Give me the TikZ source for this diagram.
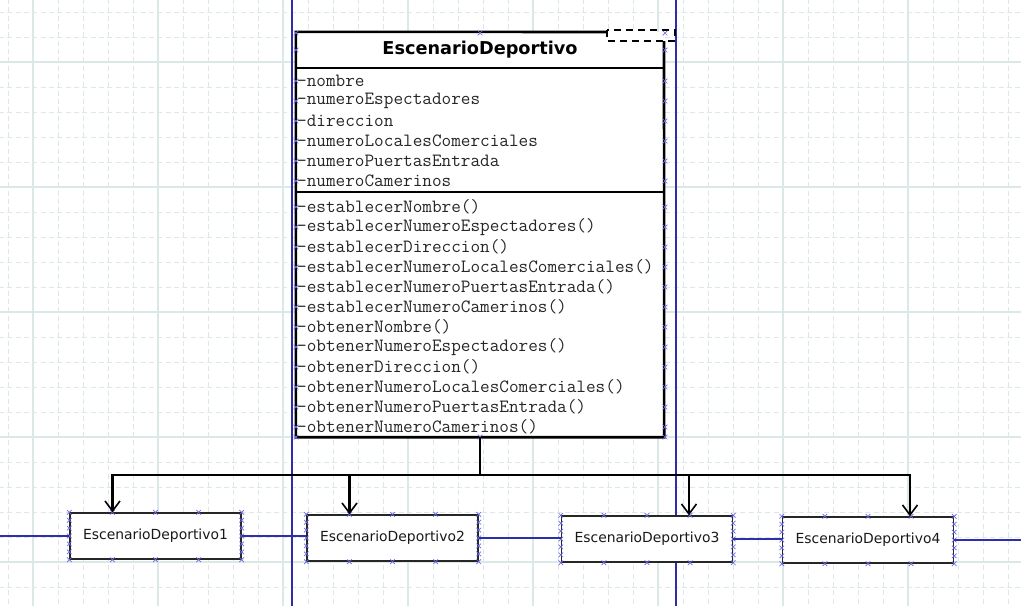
\documentclass[tikz,border=0pt]{standalone}
\usepackage{fontspec}
\setmainfont{DejaVu Sans}
\usetikzlibrary{arrows.meta,calc}
\definecolor{gridc}{HTML}{DCE8E8}
\definecolor{bline}{HTML}{2E2EA8}
\definecolor{mk}{HTML}{6A6AE6}
\tikzset{
  xm/.pic={\draw[mk,line width=0.7pt] (-2.3,-2.3)--(2.3,2.3) (-2.3,2.3)--(2.3,-2.3);},
  gridd/.style={gridc,line width=1pt,dash pattern=on 5pt off 3.33pt,dash phase=1pt},
  grids/.style={gridc,line width=1.2pt},
  member/.style={anchor=west,inner sep=0pt,font=\ttfamily\fontsize{18.7}{18}\selectfont,text=black!85},
  subbox/.style={draw=black!85,line width=1.4pt,fill=white,minimum width=171pt,minimum height=46pt,inner sep=0pt,font=\fontsize{13.9}{14}\selectfont,text=black!90},
  gen/.style={line width=2.2pt,-{Straight Barb[length=10pt,width=15pt,line width=1.6pt]}},
  assoc/.style={bline,line width=1.3pt},
  frame/.style={line width=2.6pt,black}
}
\begin{document}
\begin{tikzpicture}[x=1pt,y=-1pt]
\useasboundingbox (0,0) rectangle (1021,606);
\fill[white] (0,0) rectangle (1021,606);
% grid
\foreach \x in {8,33,...,1020} \draw[gridd] (\x,0) -- (\x,606);
\foreach \y in {12,37,...,605} \draw[gridd] (0,\y) -- (1021,\y);
\foreach \x in {33,158,...,1020} \draw[grids] (\x,0) -- (\x,606);
\foreach \y in {62,187,...,605} \draw[grids] (0,\y) -- (1021,\y);
% blue guide lines
\draw[assoc] (292,0) -- (292,606);
\draw[assoc] (676,0) -- (676,606);
% main class
\node[minimum width=368pt,minimum height=405pt,inner sep=0pt] (main) at (480,234.5) {};
\fill[white] (main.north west) rectangle (main.south east);
\draw[frame] (607,32) -- (main.north west) -- (main.south west) -- (main.south east) -- (664,41);
\draw[frame] (296,68) -- (664,68);
\draw[frame] (296,192) -- (664,192);
\draw[line width=2pt,dash pattern=on 7pt off 5pt] (607,30) rectangle (675,41);
\node[font=\bfseries\fontsize{17.7}{18}\selectfont] (title) at (480,50) {EscenarioDeportivo};
\foreach \t [count=\i from 0] in {-nombre,-numeroEspectadores,-direccion,-numeroLocalesComerciales,-numeroPuertasEntrada,-numeroCamerinos}
  \node[member] (attr\i) at (297,{81+20*\i}) {\t};
\foreach \t [count=\i from 0] in {-establecerNombre(),-establecerNumeroEspectadores(),-establecerDireccion(),-establecerNumeroLocalesComerciales(),-establecerNumeroPuertasEntrada(),-establecerNumeroCamerinos(),-obtenerNombre(),-obtenerNumeroEspectadores(),-obtenerDireccion(),-obtenerNumeroLocalesComerciales(),-obtenerNumeroPuertasEntrada(),-obtenerNumeroCamerinos()}
  \node[member] (meth\i) at (297,{207+20*\i}) {\t};
% main markers
\foreach \y in {33,50,81,101,121,141,161,181,207,227,247,267,287,307,327,347,367,387,407,427,437}
  {\pic at (296,\y) {xm}; \pic at (665,\y) {xm};}
\pic at (480,33) {xm};
\pic at (480,437) {xm};
% sub classes
\node[subbox] (s1) at (155.5,536) {EscenarioDeportivo1};
\node[subbox] (s2) at (392.5,538) {EscenarioDeportivo2};
\node[subbox] (s3) at (647,539) {EscenarioDeportivo3};
\node[subbox] (s4) at (868,540) {EscenarioDeportivo4};
\foreach \n in {s1,s2,s3,s4}{
  \foreach \k in {0,1,2,3,4}{
    \pic at ($(\n.north west)!\k/4!(\n.north east)$) {xm};
    \pic at ($(\n.south west)!\k/4!(\n.south east)$) {xm};
  }
  \foreach \k in {1,2,3,4,5}{
    \pic at ($(\n.north west)!\k/6!(\n.south west)$) {xm};
    \pic at ($(\n.north east)!\k/6!(\n.south east)$) {xm};
  }
}
% association lines between sub classes
\coordinate (le) at (0,536);
\coordinate (re) at (1021,540);
\draw[assoc] (le) -- (s1.west);
\draw[assoc] (s1.east) -- (s1.east -| s2.west);
\draw[assoc] (s2.east) -- (s2.east -| s3.west);
\draw[assoc] (s3.east) -- (s3.east -| s4.west);
\draw[assoc] (s4.east) -- (re);
% generalization
\draw[line width=2.2pt] (main.south) -- (480,475) coordinate (bus);
\draw[gen] (bus) -| ([xshift=-43pt]s1.north);
\draw[gen] (bus) -| ([xshift=-43pt]s2.north);
\draw[gen] (bus) -| ([xshift=42pt]s3.north);
\draw[gen] (bus) -| ([xshift=42pt]s4.north);
\end{tikzpicture}
\end{document}
